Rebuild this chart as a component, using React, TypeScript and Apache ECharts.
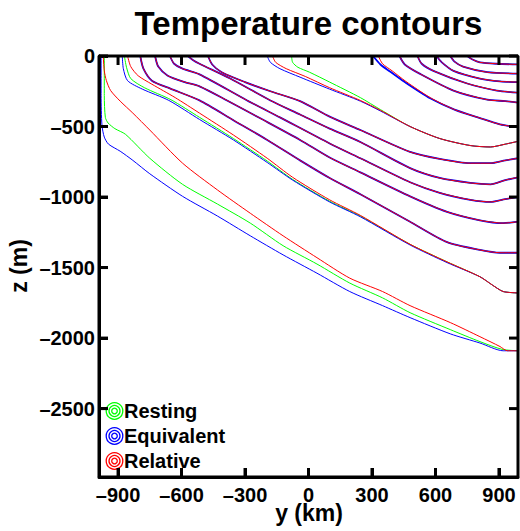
import React, { useEffect, useRef } from "react";
import * as echarts from "echarts";

const FONT = "'Liberation Sans', Arial, Helvetica, sans-serif";

const titleText = "Temperature contours";
const xName = "y (km)";
const yName = "z (m)";

const xTicks = [-900, -600, -300, 0, 300, 600, 900];
const yTicks = [0, -500, -1000, -1500, -2000, -2500];
const xMin = -990;
const xMax = 990;
const yMin = -2985;
const yMax = 0;

const variantNames = ["Resting", "Equivalent", "Relative"];
const variantColors = ["#00ff00", "#0000ff", "#ff0000"];

const restingA = [[-965,0],[-965,-280],[-960,-435],[-947,-475],[-915,-515],[-865,-555],[-750,-725],[-595,-910],[-430,-1050],[-275,-1185],[-120,-1345],[40,-1475],[195,-1610],[350,-1715],[480,-1820],[670,-1940],[810,-2025],[915,-2080],[990,-2090]];
const equivalentA = [[-980,0],[-980,-280],[-976,-490],[-965,-575],[-945,-625],[-890,-675],[-830,-740],[-750,-835],[-595,-995],[-430,-1135],[-275,-1275],[-120,-1410],[40,-1540],[195,-1670],[350,-1770],[480,-1855],[670,-1970],[810,-2035],[920,-2090],[990,-2090]];
const relativeA = [[-970,0],[-965,-105],[-955,-175],[-935,-245],[-890,-320],[-830,-405],[-750,-525],[-595,-760],[-430,-950],[-275,-1115],[-120,-1275],[40,-1430],[195,-1575],[350,-1670],[480,-1770],[670,-1890],[810,-1990],[905,-2060],[940,-2090],[990,-2090]];

const restingB = [[-870,0],[-860,-80],[-840,-160],[-775,-225],[-650,-310],[-515,-435],[-355,-585],[-195,-745],[-75,-875],[100,-1030],[245,-1135],[480,-1335],[655,-1460],[810,-1565],[870,-1625],[920,-1670],[990,-1680]];
const equivalentB = [[-880,0],[-875,-90],[-855,-175],[-785,-235],[-660,-315],[-515,-450],[-355,-595],[-195,-755],[-75,-880],[100,-1035],[245,-1140],[480,-1340],[655,-1465],[810,-1565],[870,-1625],[920,-1670],[990,-1680]];
const relativeB = [[-855,0],[-840,-75],[-805,-140],[-740,-200],[-630,-295],[-515,-405],[-355,-560],[-195,-725],[-75,-860],[100,-1020],[245,-1130],[480,-1335],[655,-1460],[810,-1565],[870,-1625],[920,-1670],[990,-1680]];

const contourC = [[-795,0],[-780,-90],[-740,-175],[-655,-230],[-515,-315],[-355,-455],[-195,-595],[-40,-740],[100,-865],[245,-980],[480,-1175],[655,-1320],[810,-1375],[905,-1395],[990,-1395]];
const contourD = [[-725,0],[-710,-75],[-665,-140],[-585,-185],[-515,-215],[-385,-315],[-230,-440],[-40,-595],[100,-720],[245,-825],[480,-995],[655,-1105],[810,-1165],[920,-1185],[990,-1175]];
const contourE = [[-655,0],[-635,-55],[-595,-90],[-515,-130],[-290,-315],[-135,-435],[100,-620],[245,-725],[480,-895],[620,-970],[765,-1020],[860,-1035],[930,-1015],[990,-1000]];
const contourF = [[-570,0],[-545,-30],[-515,-55],[-370,-160],[-180,-315],[-40,-415],[100,-515],[245,-610],[480,-795],[620,-865],[765,-900],[860,-910],[930,-880],[990,-860]];
const contourG = [[-475,0],[-455,-60],[-410,-115],[-300,-185],[-180,-250],[-40,-320],[100,-430],[245,-525],[480,-680],[620,-730],[765,-760],[860,-760],[930,-740],[990,-725]];

const restingH = [[-80,0],[-75,-45],[-50,-80],[5,-115],[100,-185],[245,-295],[340,-380],[480,-500],[620,-585],[765,-635],[860,-645],[930,-625],[990,-605]];
const equivalentH = [[-195,0],[-180,-45],[-135,-90],[-40,-150],[100,-235],[245,-320],[340,-390],[480,-500],[620,-585],[765,-635],[860,-645],[930,-625],[990,-605]];
const relativeH = [[-170,0],[-155,-45],[-105,-90],[-15,-145],[100,-225],[245,-315],[340,-385],[480,-500],[620,-585],[765,-635],[860,-645],[930,-625],[990,-605]];

const contourR6 = [[305,0],[340,-60],[385,-110],[455,-185],[575,-300],[690,-380],[810,-440],[905,-485],[990,-505]];
const relativeR6 = [[330,0],[350,-55],[395,-105],[460,-180],[575,-295],[690,-380],[810,-440],[905,-485],[990,-505]];
const contourR5 = [[430,0],[455,-60],[525,-125],[685,-245],[845,-310],[930,-320],[990,-330]];
const contourR4 = [[515,0],[535,-55],[590,-105],[750,-195],[890,-245],[990,-260]];
const contourR3 = [[605,0],[630,-45],[685,-105],[810,-160],[905,-180],[990,-185]];
const contourR2 = [[670,0],[690,-40],[730,-75],[845,-115],[990,-125]];
const contourR1 = [[750,0],[775,-25],[810,-45],[890,-55],[990,-60]];

const levels = [
  { shared: false, runs: [restingA, equivalentA, relativeA] },
  { shared: false, runs: [restingB, equivalentB, relativeB] },
  { shared: true, runs: [contourC, contourC, contourC] },
  { shared: true, runs: [contourD, contourD, contourD] },
  { shared: true, runs: [contourE, contourE, contourE] },
  { shared: true, runs: [contourF, contourF, contourF] },
  { shared: true, runs: [contourG, contourG, contourG] },
  { shared: false, runs: [restingH, equivalentH, relativeH] },
  { shared: true, runs: [contourR6, contourR6, relativeR6] },
  { shared: true, runs: [contourR5, contourR5, contourR5] },
  { shared: true, runs: [contourR4, contourR4, contourR4] },
  { shared: true, runs: [contourR3, contourR3, contourR3] },
  { shared: true, runs: [contourR2, contourR2, contourR2] },
  { shared: true, runs: [contourR1, contourR1, contourR1] },
];

const fmt = (v: number) => String(v).replace("-", "\u2013");

const PLOT_L = 99;
const PLOT_T = 56;
const PLOT_R = 518;
const PLOT_B = 477;
const TICK_PX = 9;

export default function App() {
  const ref = useRef<HTMLDivElement>(null);
  useEffect(() => {
    document.body.style.margin = "0";
    const chart = echarts.init(ref.current!, null, { renderer: "svg" });
    const series: any[] = [];
    variantNames.forEach((name, vi) => {
      levels.forEach((lv) => {
        series.push({
          type: "line",
          name,
          data: lv.runs[vi],
          symbol: "none",
          showSymbol: false,
          silent: true,
          clip: true,
          smooth: 0.25,
          lineStyle: {
            color: variantColors[vi],
            width: lv.shared && vi === 1 ? 1.8 : 1,
          },
          z: 2 + vi,
        });
      });
    });

    // box frame and inward ticks on all four sides, drawn on the axes' scales
    const tickDx = (TICK_PX / (PLOT_R - PLOT_L)) * (xMax - xMin);
    const tickDy = (TICK_PX / (PLOT_B - PLOT_T)) * (yMax - yMin);
    const blackSeg = (data: number[][]) => ({
      type: "line",
      data,
      symbol: "none",
      showSymbol: false,
      silent: true,
      clip: false,
      z: 10,
      lineStyle: { color: "#000", width: 3, cap: "butt" },
    });
    series.push(blackSeg([[xMin, yMin], [xMin, yMax], [xMax, yMax], [xMax, yMin], [xMin, yMin]]));
    xTicks.forEach((v) => {
      series.push(blackSeg([[v, yMin], [v, yMin + tickDy]]));
      series.push(blackSeg([[v, yMax], [v, yMax - tickDy]]));
    });
    yTicks.forEach((v) => {
      series.push(blackSeg([[xMin, v], [xMin + tickDx, v]]));
      series.push(blackSeg([[xMax, v], [xMax - tickDx, v]]));
    });

    const axisLine = { show: true, onZero: false, lineStyle: { color: "#000", width: 3 } };
    const tick = (vals: number[]) => ({
      show: true,
      inside: true,
      length: TICK_PX,
      customValues: vals,
      lineStyle: { color: "#000", width: 3 },
    });
    const label = (vals: number[], margin: number) => ({
      show: true,
      customValues: vals,
      formatter: (v: number) => fmt(v),
      fontSize: 20,
      lineHeight: 15,
      fontWeight: "bold",
      fontFamily: FONT,
      color: "#000",
      margin,
    });

    const legendRows = variantNames.map((name, i) => {
      const cy = 411 + i * 25;
      return {
        type: "group",
        children: [
          { type: "circle", shape: { cx: 114.5, cy, r: 8.3 }, style: { fill: "none", stroke: variantColors[i], lineWidth: 1.3 } },
          { type: "circle", shape: { cx: 114.5, cy, r: 5.5 }, style: { fill: "none", stroke: variantColors[i], lineWidth: 1.3 } },
          { type: "circle", shape: { cx: 114.5, cy, r: 2.8 }, style: { fill: "none", stroke: variantColors[i], lineWidth: 1.3 } },
          {
            type: "text",
            x: 124,
            y: cy,
            style: { text: name, fontSize: 20, fontWeight: "bold", fontFamily: FONT, fill: "#000", align: "left", verticalAlign: "middle" },
          },
        ],
      };
    });

    chart.setOption({
      animation: false,
      backgroundColor: "#fff",
      grid: { left: PLOT_L, right: 520 - PLOT_R, top: PLOT_T, bottom: 531 - PLOT_B, containLabel: false },
      xAxis: { type: "value", position: "bottom", min: xMin, max: xMax, axisLine, axisTick: tick(xTicks), axisLabel: label(xTicks, 10), splitLine: { show: false } },
      yAxis: { type: "value", position: "left", min: yMin, max: yMax, axisLine, axisTick: tick(yTicks), axisLabel: label(yTicks, 4), splitLine: { show: false } },
      series,
      graphic: [
        { type: "text", x: 308.5, y: 23.5, style: { text: titleText, fontSize: 33, fontWeight: "bold", fontFamily: FONT, fill: "#000", align: "center", verticalAlign: "middle" } },
        { type: "text", x: 309, y: 513, style: { text: xName, fontSize: 23, lineHeight: 16, fontWeight: "bold", fontFamily: FONT, fill: "#000", align: "center", verticalAlign: "middle" } },
        { type: "text", x: 19, y: 266, rotation: Math.PI / 2, style: { text: yName, fontSize: 23, fontWeight: "bold", fontFamily: FONT, fill: "#000", align: "center", verticalAlign: "middle" } },
        ...legendRows,
      ],
    });
    return () => chart.dispose();
  }, []);
  return <div ref={ref} style={{ position: "absolute", left: 0, top: 0, width: 520, height: 531 }} />;
}
